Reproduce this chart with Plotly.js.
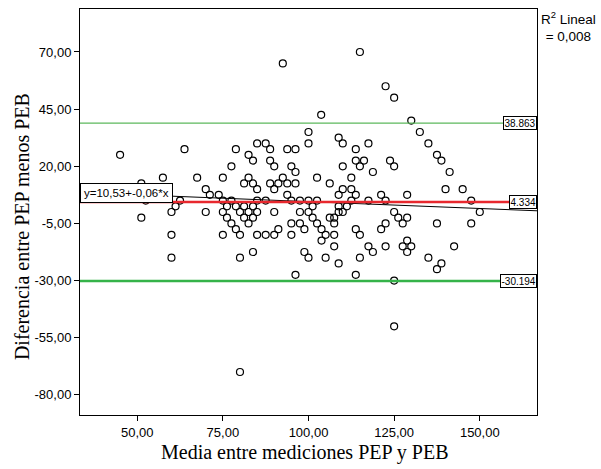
<!DOCTYPE html>
<html>
<head>
<meta charset="utf-8">
<script src="https://cdn.plot.ly/plotly-3.0.1.min.js"></script>
<style>html,body{margin:0;padding:0;background:#fff;}#chart{width:601px;height:469px;}</style>
</head>
<body>
<div id="chart"></div>
<script>
// Bland-Altman data: mean of measurements (x) vs difference PEP - PEB (y)
const meanVals = [
115,92.5,122.5,125,103.7,130,100,132.5,108.8,
85,87.5,100,110,117.5,135,
63.8,78.8,88.8,93.8,96.2,113.8,
45,82.5,137.5,
83.8,88.8,113.8,116.2,123.8,138.8,
77.5,90,95,110,115,125,
96.2,118.8,141.2,
57.5,67.5,75,82.5,92.5,102.5,112.5,
51.2,81.2,83.8,88.8,91.2,93.8,96.2,106.2,
70,85,90,110,112.5,140,145,
71.2,73.8,93.8,108.8,113.8,121.2,128.8,
52.5,62.5,75,77.5,85,87.5,95,97.5,100,102.5,112.5,117.5,122.5,147.5,
61.2,76.2,78.8,81.2,83.8,101.2,108.8,111.2,
60,70,75,80,82.5,85,90,97.5,100,108.8,110,125,150,
51.2,76.2,81.2,83.8,101.2,106.2,107.5,126.2,128.8,
77.5,82.5,95,97.5,102.5,107.5,122.5,127.5,137.5,147.5,
78.8,91.2,98.8,103.8,113.8,121.2,
60,75,80,85,87.5,90,95,105,107.5,115,
103.8,128.8,
107.5,117.5,122.5,127.5,130,142.5,
83.8,98.8,118.8,128.8,
60,80,100,105,115,135,
108.8,138.8,
137.5,
96.2,113.8,
125,
125,
80
];
const diffVals = [
70,65,55,50,42.5,40,35,35,32.5,
30,30,30,30,30,30,
27.5,27.5,27.5,27.5,27.5,27.5,
25,25,25,
22.5,22.5,22.5,22.5,22.5,22.5,
20,20,20,20,20,20,
17.5,17.5,17.5,
15,15,15,15,15,15,15,
12.5,12.5,12.5,12.5,12.5,12.5,12.5,12.5,
10,10,10,10,10,10,10,
7.5,7.5,7.5,7.5,7.5,7.5,7.5,
5,5,5,5,5,5,5,5,5,5,5,5,5,5,
2.5,2.5,2.5,2.5,2.5,2.5,2.5,2.5,
0,0,0,0,0,0,0,0,0,0,0,0,0,
-2.5,-2.5,-2.5,-2.5,-2.5,-2.5,-2.5,-2.5,-2.5,
-5,-5,-5,-5,-5,-5,-5,-5,-5,-5,
-7.5,-7.5,-7.5,-7.5,-7.5,-7.5,
-10,-10,-10,-10,-10,-10,-10,-10,-10,-10,
-12.5,-12.5,
-15,-15,-15,-15,-15,-15,
-17.5,-17.5,-17.5,-17.5,
-20,-20,-20,-20,-20,-20,
-22.5,-22.5,
-25,
-27.5,-27.5,
-30,
-50,
-70
];
const meanDiff = 4.334;
const upperLoA = 38.863;
const lowerLoA = -30.194;
const fitIntercept = 10.53;
const fitSlope = -0.06;
const r2Text = "R<sup>2</sup> Lineal<br>= 0,008";
const eqText = "y=10,53+-0,06*x";

const xTickVals = [50, 75, 100, 125, 150];
const xTickText = ["50,00", "75,00", "100,00", "125,00", "150,00"];
const yTickVals = [70, 45, 20, -5, -30, -55, -80];
const yTickText = ["70,00", "45,00", "20,00", "-5,00", "-30,00", "-55,00", "-80,00"];

const xRange = [33.3, 166.7];
const yRange = [-88.8, 88.8];

const traces = [
  {
    x: meanVals, y: diffVals, type: 'scatter', mode: 'markers',
    marker: {symbol: 'circle-open', size: 7, color: '#000', line: {width: 1.2, color: '#000'}},
    hoverinfo: 'skip', showlegend: false
  },
  {
    x: xRange, y: xRange.map(v => fitIntercept + fitSlope * v),
    type: 'scatter', mode: 'lines', line: {color: '#000', width: 1},
    hoverinfo: 'skip', showlegend: false
  },
  {
    x: xRange, y: [upperLoA, upperLoA], type: 'scatter', mode: 'lines',
    line: {color: '#5cb85c', width: 1.2}, hoverinfo: 'skip', showlegend: false
  },
  {
    x: xRange, y: [lowerLoA, lowerLoA], type: 'scatter', mode: 'lines',
    line: {color: '#35b34a', width: 2.5}, hoverinfo: 'skip', showlegend: false
  },
  {
    x: xRange, y: [meanDiff, meanDiff], type: 'scatter', mode: 'lines',
    line: {color: '#e8282e', width: 2.5}, hoverinfo: 'skip', showlegend: false
  }
];

const boxLabel = (val, txt) => ({
  xref: 'paper', x: 1, xanchor: 'right', yref: 'y', y: val, yanchor: 'middle',
  text: txt, showarrow: false, bgcolor: '#fff', bordercolor: '#000', borderwidth: 1, borderpad: 0.5,
  font: {family: 'Liberation Sans, Arial, sans-serif', size: 10, color: '#000'}
});

const layout = {
  width: 601, height: 469,
  margin: {l: 80, r: 64, t: 9, b: 54},
  paper_bgcolor: '#fff', plot_bgcolor: '#fff',
  showlegend: false,
  xaxis: {
    range: xRange, showgrid: false, zeroline: false,
    showline: true, mirror: true, linecolor: '#000', linewidth: 1,
    ticks: 'outside', ticklen: 5, tickcolor: '#000', tickwidth: 1,
    tickvals: xTickVals, ticktext: xTickText,
    tickfont: {family: 'Liberation Sans, Arial, sans-serif', size: 13, color: '#000'}
  },
  yaxis: {
    range: yRange, showgrid: false, zeroline: false,
    showline: true, mirror: true, linecolor: '#000', linewidth: 1,
    ticks: 'outside', ticklen: 5, tickcolor: '#000', tickwidth: 1,
    tickvals: yTickVals, ticktext: yTickText,
    tickfont: {family: 'Liberation Sans, Arial, sans-serif', size: 13, color: '#000'}
  },
  annotations: [
    boxLabel(upperLoA, String(upperLoA)),
    boxLabel(meanDiff, String(meanDiff)),
    boxLabel(lowerLoA, String(lowerLoA)),
    {
      xref: 'paper', x: 0, xanchor: 'left', yref: 'y', y: fitIntercept + fitSlope * xRange[0], yanchor: 'middle',
      text: eqText, showarrow: false, bgcolor: '#fff', bordercolor: '#000', borderwidth: 1, borderpad: 3,
      font: {family: 'Liberation Sans, Arial, sans-serif', size: 11.5, color: '#000'}
    },
    {
      xref: 'paper', x: 1.07, xanchor: 'center', yref: 'paper', y: 1.005, yanchor: 'top',
      text: r2Text, showarrow: false, align: 'center',
      font: {family: 'Liberation Sans, Arial, sans-serif', size: 13.5, color: '#000'}
    },
    {
      xref: 'paper', x: 0.493, xanchor: 'center', yref: 'paper', y: -0.092, yanchor: 'middle',
      text: 'Media entre mediciones PEP y PEB', showarrow: false,
      font: {family: 'Liberation Serif, Times New Roman, serif', size: 20, color: '#000'}
    },
    {
      xref: 'paper', x: -0.128, xanchor: 'center', yref: 'paper', y: 0.464, yanchor: 'middle',
      text: 'Diferencia entre PEP menos PEB', showarrow: false, textangle: -90,
      font: {family: 'Liberation Serif, Times New Roman, serif', size: 20, color: '#000'}
    }
  ]
};

Plotly.newPlot('chart', traces, layout, {staticPlot: true, displayModeBar: false});
</script>
</body>
</html>
